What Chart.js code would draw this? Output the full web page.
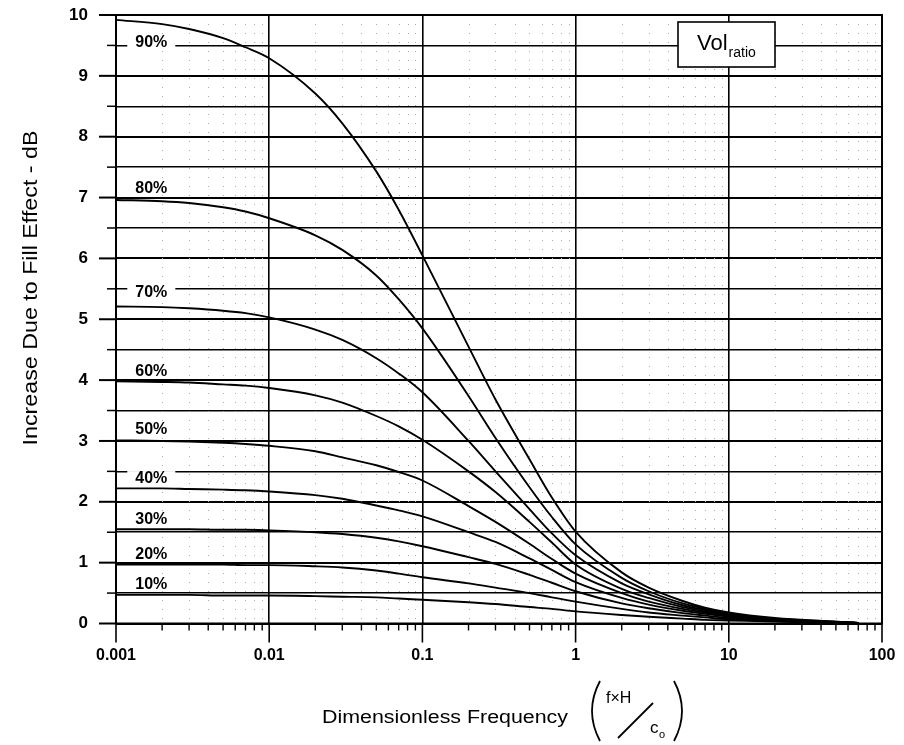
<!DOCTYPE html>
<html><head><meta charset="utf-8">
<script src="https://cdn.jsdelivr.net/npm/chart.js@4.4.0/dist/chart.umd.min.js"></script>
<style>html,body{margin:0;padding:0;background:#fff;}#wrap{width:904px;height:745px;}</style>
</head><body><div id="wrap"><canvas id="c" width="904" height="745"></canvas></div>
<script>
// Dimensionless frequency (f x H / c0) sample points
const freq = [0.001,0.002,0.003,0.005,0.007,0.01,0.02,0.03,0.05,0.07,0.1,0.2,0.3,0.5,0.7,1,2,3,5,7,10,20,50,70];
// Increase due to fill effect (dB) for each volume ratio
const fill90 = [9.92,9.85,9.77,9.62,9.47,9.29,8.71,8.22,7.43,6.80,6.05,4.55,3.68,2.70,2.07,1.51,0.84,0.59,0.37,0.26,0.18,0.09,0.03,0.01];
const fill80 = [6.96,6.94,6.91,6.84,6.77,6.66,6.38,6.14,5.72,5.33,4.85,3.74,3.05,2.24,1.75,1.30,0.75,0.53,0.33,0.24,0.16,0.08,0.03,0.01];
const fill70 = [5.21,5.20,5.18,5.14,5.10,5.03,4.83,4.66,4.36,4.11,3.80,3.00,2.50,1.88,1.48,1.12,0.66,0.48,0.30,0.22,0.15,0.07,0.02,0.01];
const fill60 = [3.98,3.97,3.96,3.93,3.91,3.87,3.75,3.63,3.41,3.24,3.02,2.50,2.16,1.67,1.33,0.97,0.57,0.42,0.27,0.20,0.14,0.07,0.02,0.01];
const fill50 = [3.01,3.00,2.99,2.97,2.95,2.92,2.83,2.73,2.60,2.49,2.35,1.93,1.67,1.31,1.06,0.82,0.50,0.36,0.24,0.18,0.12,0.06,0.02,0.01];
const fill40 = [2.22,2.22,2.21,2.20,2.19,2.17,2.11,2.05,1.94,1.86,1.76,1.50,1.34,1.07,0.88,0.68,0.42,0.31,0.21,0.16,0.11,0.05,0.02,0.01];
const fill30 = [1.55,1.55,1.55,1.54,1.54,1.53,1.50,1.47,1.41,1.35,1.27,1.09,0.98,0.80,0.67,0.53,0.33,0.25,0.17,0.13,0.09,0.05,0.02,0.01];
const fill20 = [0.97,0.97,0.97,0.97,0.96,0.96,0.94,0.92,0.87,0.82,0.76,0.66,0.59,0.50,0.43,0.36,0.24,0.18,0.13,0.10,0.07,0.04,0.01,0.01];
const fill10 = [0.47,0.47,0.47,0.46,0.46,0.46,0.45,0.44,0.43,0.41,0.39,0.35,0.32,0.27,0.24,0.20,0.14,0.11,0.08,0.06,0.05,0.03,0.01,0.00];
const seriesNames = ['90%','80%','70%','60%','50%','40%','30%','20%','10%'];
const seriesValues = [fill90,fill80,fill70,fill60,fill50,fill40,fill30,fill20,fill10];
const yTickValues = [0,1,2,3,4,5,6,7,8,9,10];
const xTickLabels = ['0.001','0.01','0.1','1','10','100'];
const xTitle = 'Dimensionless Frequency';
const yTitle = 'Increase Due to Fill Effect - dB';
const legendMain = 'Vol';
const legendSub = 'ratio';

// annotation placement (data coordinates of series label centres)
const labelX = 0.00170;
const labelY = [9.57,7.17,5.45,4.15,3.20,2.39,1.72,1.15,0.65];

const isDecade = v => Math.abs(Math.log10(v) - Math.round(Math.log10(v))) < 1e-6;
const FONT = '"Liberation Sans", Arial, Helvetica, sans-serif';

const datasets = seriesValues.map((vals,i)=>({
  label: seriesNames[i],
  data: freq.map((f,j)=>({x:f,y:vals[j]})),
  borderColor:'#000', borderWidth:1.9, pointRadius:0, fill:false,
  cubicInterpolationMode:'monotone'
}));

const deco = {
  id:'deco',
  beforeDatasetsDraw(chart){
    const {ctx, chartArea:a, scales:{x,y}} = chart;
    ctx.save();
    // minor dotted vertical grid
    ctx.strokeStyle='#aaaaaa'; ctx.lineWidth=1; ctx.setLineDash([1,8]);
    x.ticks.forEach(t=>{ if(!isDecade(t.value)){ const px=Math.round(x.getPixelForValue(t.value))+0.5;
      ctx.beginPath(); ctx.moveTo(px,a.top); ctx.lineTo(px,a.bottom); ctx.stroke(); }});
    ctx.setLineDash([]);
    ctx.strokeStyle='#000';
    // bottom ticks
    x.ticks.forEach(t=>{ const px=x.getPixelForValue(t.value); const dec=isDecade(t.value);
      ctx.lineWidth=dec?1.6:1.4; ctx.beginPath(); ctx.moveTo(px,a.bottom); ctx.lineTo(px,a.bottom+(dec?19:7)); ctx.stroke(); });
    // left ticks
    y.ticks.forEach(t=>{ const py=y.getPixelForValue(t.value); const intg=Math.abs(t.value-Math.round(t.value))<1e-6;
      ctx.lineWidth=intg?2:1.5; ctx.beginPath(); ctx.moveTo(a.left-(intg?17:9),py); ctx.lineTo(a.left,py); ctx.stroke(); });
    ctx.restore();
  },
  afterDatasetsDraw(chart){
    const {ctx, chartArea:a, scales:{x,y}} = chart;
    ctx.save();
    // frame
    ctx.strokeStyle='#000'; ctx.lineWidth=2;
    ctx.strokeRect(a.left,a.top,a.right-a.left,a.bottom-a.top);
    // series labels
    ctx.font='bold 16px '+FONT;
    ctx.textAlign='center'; ctx.textBaseline='middle';
    seriesNames.forEach((n,i)=>{
      const px=x.getPixelForValue(labelX), py=y.getPixelForValue(labelY[i]);
      const w=ctx.measureText(n).width;
      ctx.fillStyle='#fff'; ctx.fillRect(px-w/2-8,py-7,w+16,14);
      ctx.fillStyle='#000'; ctx.fillText(n,px,py+1);
    });
    // legend box
    ctx.fillStyle='#fff'; ctx.fillRect(678,22,97,45);
    ctx.lineWidth=1.6; ctx.strokeStyle='#000'; ctx.strokeRect(678,22,97,45);
    ctx.fillStyle='#000'; ctx.textAlign='left'; ctx.textBaseline='alphabetic';
    ctx.font='22px '+FONT;
    ctx.fillText(legendMain,697,50);
    const wv=ctx.measureText(legendMain).width;
    ctx.font='14px '+FONT;
    ctx.fillText(legendSub,697+wv+1,57);
    // x title
    ctx.font='18px '+FONT;
    let w=ctx.measureText(xTitle).width; let s=246/w;
    ctx.save(); ctx.translate(322,718); ctx.scale(s,1); ctx.textBaseline='middle'; ctx.fillText(xTitle,0,0); ctx.restore();
    // formula (f x H / c_o) in parentheses
    ctx.lineWidth=1.8;
    ctx.beginPath(); ctx.moveTo(600,681); ctx.quadraticCurveTo(584,711,600,741); ctx.stroke();
    ctx.beginPath(); ctx.moveTo(674,681); ctx.quadraticCurveTo(690,711,674,741); ctx.stroke();
    ctx.font='16px '+FONT; ctx.textBaseline='alphabetic';
    ctx.fillText('f\u00d7H',606,703);
    ctx.beginPath(); ctx.moveTo(618,738); ctx.lineTo(653,703); ctx.stroke();
    ctx.font='17px '+FONT;
    ctx.fillText('c',650,733);
    ctx.font='11px '+FONT;
    ctx.fillText('o',659,738);
    // y title
    ctx.font='19px "Liberation Sans Narrow", '+FONT;
    w=ctx.measureText(yTitle).width; s=315/w;
    ctx.save(); ctx.translate(31,288); ctx.rotate(-Math.PI/2); ctx.scale(s,1.1);
    ctx.textAlign='center'; ctx.textBaseline='middle'; ctx.fillText(yTitle,0,0); ctx.restore();
    ctx.restore();
  }
};

new Chart(document.getElementById('c'),{
  type:'line',
  data:{datasets},
  options:{
    responsive:false, animation:false, devicePixelRatio:1,
    layout:{padding:{left:0,top:15,right:22,bottom:0}},
    plugins:{legend:{display:false},tooltip:{enabled:false},title:{display:false}},
    scales:{
      x:{type:'logarithmic',min:0.001,max:100,
        afterBuildTicks(sc){ const t=[]; for(let e=-3;e<=1;e++){ for(let m=1;m<=9;m++){ t.push({value:+(m*Math.pow(10,e)).toPrecision(3)}); } } t.push({value:100}); sc.ticks=t; },
        afterFit(sc){ sc.height=121.5; sc.paddingLeft=0; sc.paddingRight=0; sc.paddingTop=0; sc.paddingBottom=0; },
        ticks:{autoSkip:false,maxRotation:0,minRotation:0,padding:22,color:'#000',
          font:{family:FONT,size:16,weight:'bold'},
          callback(v){ if(!isDecade(v)) return ''; const k=Math.round(Math.log10(v))+3; return xTickLabels[k]; }},
        grid:{drawTicks:false,color(c){ return c.tick && isDecade(c.tick.value)?'#000':'rgba(0,0,0,0)'; },lineWidth:1.6},
        border:{display:false}
      },
      y:{type:'linear',min:0,max:10,
        afterBuildTicks(sc){ const t=[]; for(let v=0; v<=20; v++) t.push({value:v/2}); sc.ticks=t; },
        afterFit(sc){ sc.width=116; sc.paddingLeft=0; sc.paddingRight=0; sc.paddingTop=0; sc.paddingBottom=0; },
        ticks:{padding:28,color:'#000',
          font:{family:FONT,size:17,weight:'bold'},
          callback(v){ return yTickValues.includes(v)? String(v):''; }},
        grid:{drawTicks:false,color:'#000',lineWidth(c){ return c.tick && Number.isInteger(c.tick.value)?2:1.5; }},
        border:{display:false}
      }
    }
  },
  plugins:[deco]
});
</script></body></html>
